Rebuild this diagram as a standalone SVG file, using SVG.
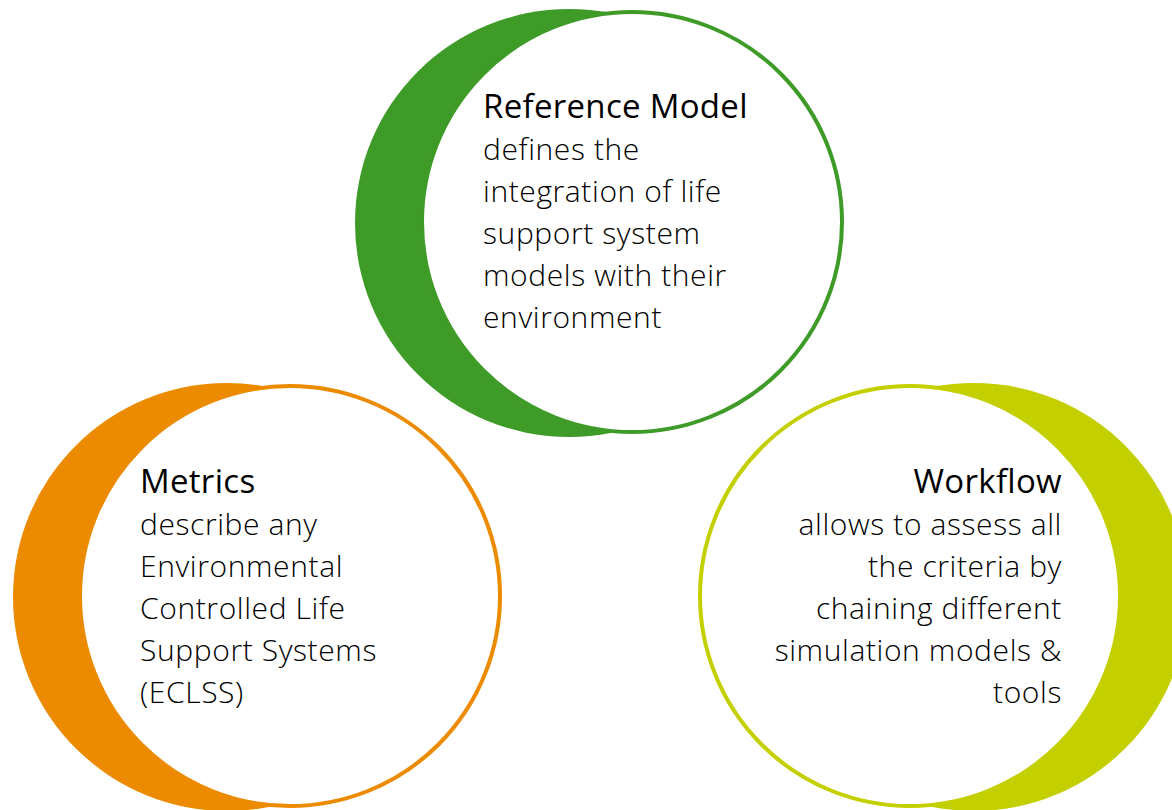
<svg xmlns="http://www.w3.org/2000/svg" width="1172" height="810" viewBox="0 0 1172 810">
<style>
.t{font-family:"Open Sans","Noto Sans","Liberation Sans",sans-serif;fill:#000}
.h{font-size:33px;font-weight:400;letter-spacing:0.3px}
.b{font-size:30px;font-weight:300;letter-spacing:0.6px}
.ring{fill:#fff;stroke-width:4}
</style>
<rect width="1172" height="810" fill="#fff"/>
<g id="reference-model">
<circle cx="569" cy="223" r="214" fill="#3f9b28"/>
<circle class="ring" cx="632" cy="222" r="210" stroke="#3f9b28"/>
<text class="t h" x="483" y="118">Reference Model</text>
<text class="t b" x="483"><tspan x="483" y="160">defines the</tspan><tspan x="483" y="202">integration of life</tspan><tspan x="483" y="244">support system</tspan><tspan x="483" y="286">models with their</tspan><tspan x="483" y="328">environment</tspan></text>
</g>
<g id="metrics">
<circle cx="227" cy="597" r="214" fill="#ec8b00"/>
<circle class="ring" cx="290" cy="596" r="210" stroke="#ec8b00"/>
<text class="t h" x="140" y="493">Metrics</text>
<text class="t b"><tspan x="140" y="535">describe any</tspan><tspan x="140" y="577">Environmental</tspan><tspan x="140" y="619">Controlled Life</tspan><tspan x="140" y="661">Support Systems</tspan><tspan x="140" y="703">(ECLSS)</tspan></text>
</g>
<g id="workflow">
<circle cx="974" cy="597" r="214" fill="#c4cf00"/>
<circle class="ring" cx="910" cy="596" r="210" stroke="#c4cf00"/>
<text class="t h" x="1062" y="493" text-anchor="end">Workflow</text>
<text class="t b" text-anchor="end"><tspan x="1062" y="535">allows to assess all</tspan><tspan x="1062" y="577">the criteria by</tspan><tspan x="1062" y="619">chaining different</tspan><tspan x="1062" y="661">simulation models &amp;</tspan><tspan x="1062" y="703">tools</tspan></text>
</g>
</svg>
